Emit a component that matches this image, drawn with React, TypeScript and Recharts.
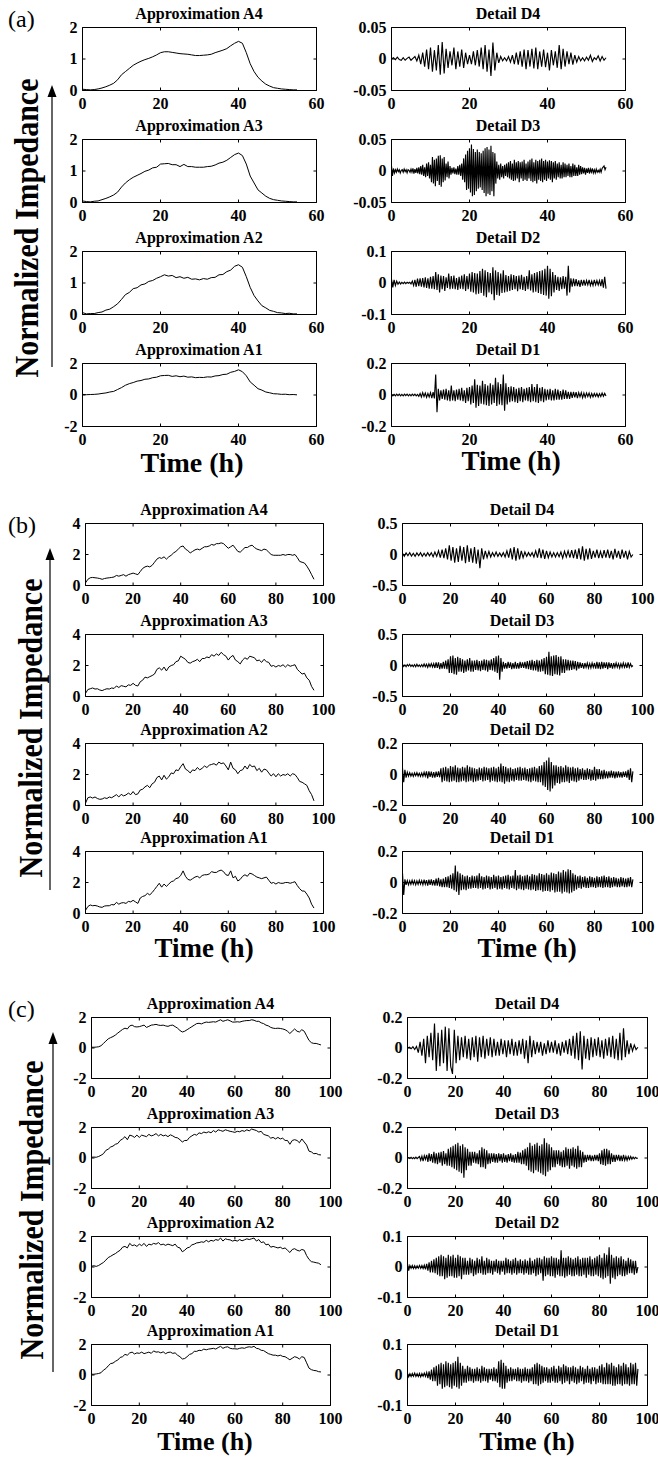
import React from 'react';
import { LineChart, Line, XAxis, YAxis, ReferenceArea } from 'recharts';

// ---------- Panel (a): values ----------
const A4_A = [.04,.03,.02,.03,.05,.08,.12,.17,.23,.34,
  .5,.6,.7,.8,.87,.93,.98,1.02,1.07,1.13,
  1.2,1.23,1.23,1.21,1.19,1.17,1.16,1.15,1.13,1.11,
  1.11,1.12,1.13,1.15,1.2,1.24,1.28,1.33,1.42,1.5,
  1.56,1.5,1.2,.85,.6,.42,.3,.2,.14,.09,
  .07,.05,.04,.03,.02,.02];
const A3_A = [.05,.03,.02,.04,.05,.09,.13,.18,.24,.33,
  .49,.62,.72,.8,.86,.92,.99,1.03,1.1,1.12,
  1.22,1.23,1.24,1.2,1.2,1.14,1.21,1.14,1.14,1.12,
  1.12,1.12,1.14,1.15,1.19,1.25,1.28,1.34,1.43,1.52,
  1.57,1.49,1.22,.84,.62,.4,.3,.2,.13,.09,
  .07,.05,.04,.03,.02,.02];
const A2_A = [.06,.02,.03,.03,.06,.08,.14,.17,.25,.34,
  .48,.63,.7,.82,.85,.94,.97,1.05,1.08,1.15,
  1.2,1.26,1.22,1.24,1.17,1.2,1.15,1.18,1.12,1.13,
  1.1,1.14,1.12,1.17,1.18,1.26,1.27,1.36,1.41,1.53,
  1.58,1.5,1.2,.86,.6,.43,.28,.21,.13,.1,
  .06,.05,.03,.04,.02,.02];
const A1_A = [.04,.02,.03,.04,.06,.1,.13,.19,.23,.35,
  .47,.62,.72,.79,.88,.92,1,1.02,1.1,1.13,
  1.22,1.24,1.25,1.18,1.22,1.16,1.2,1.13,1.15,1.1,
  1.12,1.11,1.15,1.14,1.21,1.23,1.3,1.32,1.44,1.5,
  1.6,1.48,1.22,.83,.62,.4,.31,.19,.14,.08,
  .07,.04,.05,.02,.03,.01];
const D4_A = [0,.002,-.001,.003,-.001,-.002,.002,-.002,.001,.003,
  -.002,.001,.004,-.003,.006,-.008,.01,-.012,.015,-.016,
  .018,-.02,.014,-.018,.022,-.025,.027,-.023,.016,-.014,
  .012,-.01,.018,-.016,.012,-.012,.015,-.014,.01,-.008,
  .006,-.008,.012,-.01,.014,-.012,.018,-.016,.022,-.02,
  .015,-.027,.026,-.018,.01,-.006,.004,-.003,.002,-.003,
  .004,-.005,.006,-.008,.01,-.009,.012,-.012,.015,-.016,
  .014,-.012,.016,-.015,.018,-.016,.012,-.012,.015,-.013,
  .01,-.018,.014,-.01,.012,-.014,.022,-.016,.016,-.012,
  .012,-.008,.01,-.009,.006,-.005,.004,-.003,.002,-.003,
  .003,-.002,.006,-.004,.002,-.001,.005,-.003,.004,-.002,.002];
const D3_A = [.008,-.008,.004,-.003,.002,-.002,.003,-.001,.002,-.003,.001,.002,-.002,.003,-.001,.002,-.003,.002,.001,-.002,
  .003,-.002,.004,-.004,.003,-.003,.005,-.004,.006,-.005,.008,-.006,.01,-.008,.006,-.01,.012,-.008,.014,-.012,
  .01,-.018,.022,-.02,.018,-.024,.02,-.016,.024,-.022,.025,-.025,.02,-.018,.022,-.015,.012,-.01,.015,-.012,
  .008,-.006,.005,-.004,.006,-.005,.004,-.006,.008,-.006,.01,-.008,.012,-.014,.02,-.018,.026,-.03,.032,-.028,
  .036,-.034,.042,-.04,.035,-.038,.03,-.032,.034,-.028,.03,-.026,.028,-.03,.032,-.035,.036,-.04,.038,-.036,
  .034,-.038,.04,-.032,.03,-.04,.028,-.02,.015,-.012,.01,-.014,.012,-.01,.008,-.012,.01,-.008,.012,-.01,
  .014,-.012,.016,-.014,.012,-.016,.018,-.015,.014,-.012,.016,-.018,.014,-.012,.015,-.016,.018,-.014,.012,-.016,
  .015,-.012,.018,-.016,.02,-.018,.014,-.016,.018,-.02,.016,-.014,.018,-.016,.02,-.018,.016,-.014,.018,-.016,
  .015,-.012,.017,-.014,.016,-.018,.014,-.012,.016,-.014,.012,-.01,.014,-.012,.01,-.012,.014,-.01,.012,-.01,
  .01,-.008,.012,-.01,.008,-.01,.012,-.008,.01,-.008,.006,-.008,.01,-.006,.008,-.005,.006,-.004,.005,-.006,
  .004,-.003,.005,-.004,.003,-.002,.004,-.003,.002,-.003,.003,-.002,.001,-.002,.003,-.002,.004,.006,.008,.002,.006];
const D2_A = [.012,-.014,.01,-.008,.006,-.004,.003,-.003,.002,-.002,.003,-.002,.002,-.001,.002,
  -.003,.006,-.008,.01,-.012,.014,-.01,.015,-.012,.016,-.014,.018,-.016,.015,-.018,
  .02,-.018,.022,-.02,.035,-.022,.028,-.03,.024,-.02,.022,-.025,.018,-.016,.03,
  -.02,.022,-.018,.024,-.02,.016,-.022,.02,-.018,.024,-.02,.028,-.025,.022,-.02,
  .03,-.028,.035,-.03,.032,-.036,.03,-.034,.038,-.032,.045,-.04,.04,-.045,.035,
  -.03,.032,-.036,.05,-.055,.04,-.038,.035,-.04,.03,-.032,.04,-.03,.025,-.028,
  .022,-.025,.028,-.022,.025,-.02,.022,-.026,.024,-.02,.026,-.022,.02,-.025,.022,
  -.02,.04,-.024,.028,-.03,.032,-.028,.035,-.032,.038,-.035,.04,-.038,.045,-.04,
  .055,-.05,.045,-.042,.035,-.03,.025,-.022,.02,-.025,.018,-.02,.022,-.018,.02,
  -.04,.055,-.03,.015,-.012,.014,-.01,.012,-.01,.008,-.012,.01,-.008,.01,-.008,
  .008,-.006,.01,-.008,.006,-.008,.01,-.006,.008,-.006,.008,-.01,.012,-.015,.02,
  -.018];
const D1_A = [.005,-.006,.004,-.005,.006,-.004,.005,-.006,.004,-.005,.006,-.004,.005,-.005,.004,
  -.006,.005,-.004,.006,-.005,.004,-.008,.01,-.012,.015,-.01,.012,-.015,.01,-.012,
  .015,-.02,.018,-.022,.13,-.11,.04,-.035,.03,-.025,.035,-.03,.04,-.035,.03,
  -.04,.06,-.035,.03,-.04,.035,-.03,.04,-.035,.045,-.04,.03,-.05,.045,-.04,
  .05,-.06,.06,-.05,.1,-.08,.065,-.07,.06,-.055,.09,-.06,.07,-.065,.06,
  -.07,.075,-.06,.065,-.05,.11,-.07,.08,-.06,.07,-.065,.13,-.1,.075,-.06,
  .05,-.045,.055,-.04,.05,-.045,.04,-.05,.045,-.04,.05,-.045,.04,-.035,.045,
  -.04,.05,-.045,.07,-.04,.05,-.045,.07,-.05,.045,-.04,.05,-.045,.04,-.035,
  .035,-.03,.04,-.035,.03,-.035,.04,-.03,.035,-.03,.025,-.03,.035,-.025,.03,
  -.025,.02,-.025,.02,-.018,.02,-.015,.018,-.02,.015,-.012,.015,-.018,.012,-.015,
  .012,-.01,.012,-.015,.01,-.012,.01,-.008,.01,-.012,.008,-.01,.012,-.008,.01,
  -.006];

// ---------- Panel (b) ----------
const A4_B = [.17,.4,.5,.52,.5,.48,.45,.4,.45,.48,
  .5,.52,.55,.65,.6,.65,.7,.6,.7,.75,
  .8,.75,.7,.9,1.1,1.2,1.25,1.2,1.3,1.5,
  1.7,1.8,1.75,1.85,1.7,1.85,1.95,2.1,2.2,2.35,
  2.5,2.55,2.35,2.25,2.1,2.2,2.3,2.35,2.3,2.4,
  2.5,2.5,2.55,2.65,2.6,2.7,2.7,2.75,2.7,2.55,
  2.4,2.5,2.6,2.4,2.2,2.15,2.3,2.45,2.45,2.55,
  2.6,2.45,2.35,2.3,2.25,2.35,2.3,2.15,2,1.95,
  1.95,1.95,1.95,2,1.95,2,2,1.95,2,1.8,
  1.55,1.5,1.45,1.25,1,.7,.4];
const A3_B = [.2,.45,.5,.55,.48,.5,.42,.38,.45,.5,
  .48,.55,.52,.68,.58,.7,.66,.62,.75,.72,
  .85,.72,.68,.95,1.05,1.25,1.2,1.28,1.35,1.45,
  1.75,1.85,1.7,1.9,1.65,1.9,2,2.05,2.25,2.3,
  2.6,2.5,2.4,2.2,2.15,2.25,2.3,2.4,2.25,2.45,
  2.45,2.55,2.5,2.7,2.6,2.75,2.65,2.85,2.7,2.6,
  2.35,2.55,2.65,2.35,2.25,2.1,2.35,2.5,2.4,2.6,
  2.55,2.5,2.3,2.35,2.2,2.4,2.25,2.2,1.95,2,
  1.9,2,1.95,2.05,1.9,2.05,1.95,2,2.05,1.75,
  1.6,1.45,1.5,1.2,1.05,.65,.4];
const A2_B = [.15,.5,.55,.48,.55,.45,.4,.42,.5,.45,
  .55,.5,.6,.7,.55,.72,.62,.68,.8,.7,
  .9,.7,.75,1,1.05,1.2,1.3,1.15,1.4,1.5,
  1.8,1.9,1.65,1.95,1.7,1.85,2.1,2.05,2.3,2.25,
  2.5,2.7,2.35,2.25,2.1,2.3,2.25,2.45,2.3,2.4,
  2.55,2.45,2.6,2.65,2.7,2.6,2.8,2.7,2.75,2.55,
  2.3,2.8,2.4,2.3,2.05,2.25,2.3,2.55,2.35,2.65,
  2.5,2.55,2.25,2.4,2.15,2.35,2.3,2.1,1.9,2.05,
  1.85,2.05,1.9,2,1.95,2.05,1.9,2.05,2,1.8,
  1.55,1.5,1.4,1.3,.95,.7,.3];
const A1_B = [.2,.45,.55,.5,.52,.48,.42,.4,.48,.5,
  .5,.58,.55,.72,.6,.68,.7,.65,.78,.75,
  .85,.75,.65,1,1.1,1.15,1.3,1.2,1.35,1.55,
  1.75,1.95,1.7,1.9,1.75,1.9,2.05,2.1,2.25,2.3,
  2.45,2.75,2.4,2.2,2.15,2.25,2.35,2.4,2.3,2.45,
  2.5,2.5,2.55,2.7,2.65,2.65,2.75,2.8,2.7,2.5,
  2.45,2.75,2.3,2.4,2.1,2.2,2.4,2.5,2.4,2.6,
  2.55,2.45,2.35,2.3,2.25,2.3,2.35,2.15,1.95,2,
  1.9,2,1.95,1.95,2,2,1.95,2,2.05,1.8,
  1.6,1.45,1.45,1.25,1,.6,.35];
const D4_B = [.02,-.03,.025,-.02,.03,-.025,.02,-.03,
  .025,-.02,.03,-.03,.02,-.025,.03,-.02,
  .03,-.035,.04,-.03,.06,-.05,.08,-.06,
  .1,-.08,.15,-.1,.12,-.13,.1,-.12,
  .14,-.1,.12,-.14,.15,-.12,.1,-.13,
  .12,-.15,.08,-.22,.1,-.08,.06,-.05,
  .05,-.04,.03,-.03,.04,-.03,.025,-.03,
  .03,-.04,.06,-.05,.1,-.08,.12,-.1,
  .1,-.08,.06,-.05,.04,-.03,.03,-.025,
  .03,-.04,.06,-.05,.1,-.06,.08,-.07,
  .06,-.05,.04,-.04,.03,-.04,.03,-.035,
  .04,-.06,.05,-.04,.06,-.05,.07,-.06,
  .08,-.07,.1,-.08,.13,-.1,.09,-.08,
  .1,-.07,.06,-.05,.08,-.06,.05,-.06,
  .07,-.05,.08,-.06,.06,-.08,.09,-.05,
  .06,-.07,.08,-.05,.06,-.08,.05,-.04,
  0];
const D3_B = [.02,-.015,.01,-.02,.015,-.01,.02,-.015,.01,-.02,.015,-.02,.02,-.015,.01,-.02,.015,-.02,.025,-.02,
  .02,-.03,.025,-.02,.03,-.025,.03,-.04,.05,-.04,.05,-.06,.04,-.05,.06,-.05,.08,-.06,.1,-.12,
  .15,-.12,.16,-.14,.12,-.15,.14,-.1,.12,-.1,.1,-.12,.08,-.1,.1,-.08,.12,-.1,.08,-.1,
  .08,-.07,.09,-.08,.07,-.09,.08,-.07,.1,-.08,.09,-.1,.08,-.07,.1,-.08,.12,-.1,.15,-.12,
  .16,-.23,.12,-.1,.06,-.05,.04,-.05,.06,-.04,.05,-.06,.04,-.05,.06,-.05,.04,-.05,.06,-.04,
  .05,-.04,.06,-.05,.07,-.06,.08,-.07,.09,-.08,.07,-.08,.09,-.1,.08,-.1,.1,-.09,.12,-.14,
  .14,-.15,.22,-.16,.15,-.17,.16,-.14,.17,-.15,.14,-.16,.15,-.12,.1,-.12,.1,-.08,.09,-.08,
  .08,-.07,.08,-.06,.07,-.08,.06,-.05,.05,-.04,.04,-.05,.04,-.03,.04,-.04,.03,-.04,.04,-.03,
  .04,-.05,.06,-.05,.05,-.06,.06,-.05,.05,-.04,.05,-.06,.05,-.04,.04,-.05,.04,-.03,.04,-.03,
  .03,-.04,.03,-.03,.04,-.03,.03,-.04,.05,-.03,.03,-.02,0];
const D2_B = [.04,-.05,.03,-.02,.015,-.01,.012,-.01,.008,-.012,.01,-.008,.012,-.01,.008,-.012,.01,-.012,.015,-.01,
  .02,-.025,.02,-.015,.018,-.02,.015,-.02,.018,-.015,.02,-.018,.04,-.05,.045,-.04,.05,-.045,.04,-.05,
  .055,-.045,.05,-.04,.06,-.05,.045,-.05,.04,-.045,.05,-.04,.045,-.05,.06,-.045,.05,-.04,.045,-.05,
  .04,-.045,.035,-.04,.045,-.035,.04,-.045,.05,-.04,.045,-.035,.04,-.05,.045,-.04,.05,-.045,.04,-.05,
  .05,-.045,.07,-.05,.055,-.06,.05,-.045,.04,-.05,.045,-.04,.035,-.045,.04,-.035,.045,-.04,.05,-.04,
  .04,-.035,.045,-.04,.035,-.045,.04,-.05,.045,-.04,.05,-.045,.04,-.05,.055,-.05,.06,-.07,.08,-.08,
  .09,-.1,.11,-.11,.08,-.09,.06,-.07,.06,-.055,.05,-.06,.055,-.05,.045,-.05,.06,-.045,.05,-.055,
  .045,-.04,.05,-.045,.04,-.05,.045,-.04,.035,-.03,.04,-.035,.03,-.035,.04,-.03,.035,-.04,.03,-.035,
  .05,-.04,.035,-.03,.035,-.03,.025,-.03,.03,-.025,.02,-.025,.02,-.02,.025,-.02,.02,-.025,.018,-.02,
  .02,-.018,.015,-.02,.018,-.015,.02,-.02,.03,-.035,.04,-.05,.02];
const D1_B = [.06,-.08,.02,-.015,.012,-.015,.01,-.012,.015,-.01,.012,-.015,.01,-.012,.015,-.01,.012,-.015,.018,-.012,
  .015,-.02,.018,-.015,.02,-.018,.015,-.02,.025,-.02,.03,-.025,.02,-.03,.025,-.03,.035,-.03,.04,-.035,
  .05,-.04,.06,-.05,.11,-.06,.07,-.08,.06,-.05,.05,-.045,.04,-.05,.045,-.04,.035,-.04,.045,-.035,
  .04,-.035,.045,-.04,.06,-.035,.04,-.045,.035,-.04,.045,-.035,.04,-.045,.035,-.04,.05,-.035,.04,-.045,
  .045,-.04,.035,-.045,.04,-.035,.045,-.04,.05,-.045,.04,-.035,.045,-.04,.08,-.05,.045,-.04,.05,-.045,
  .04,-.05,.045,-.04,.05,-.045,.04,-.05,.055,-.045,.05,-.055,.045,-.05,.06,-.05,.055,-.06,.05,-.055,
  .06,-.055,.05,-.06,.065,-.05,.06,-.065,.055,-.06,.07,-.06,.065,-.07,.08,-.06,.07,-.065,.085,-.07,
  .08,-.065,.06,-.055,.05,-.045,.04,-.035,.045,-.04,.035,-.03,.04,-.035,.03,-.035,.04,-.03,.035,-.03,
  .03,-.035,.04,-.03,.035,-.03,.04,-.035,.045,-.03,.035,-.03,.04,-.035,.03,-.03,.035,-.025,.03,-.03,
  .025,-.03,.035,-.025,.03,-.03,.025,-.03,.03,-.025,.035,-.03,.02];

// ---------- Panel (c) ----------
const A4_C = [.05,.05,.06,.08,.15,.3,.45,.6,.68,.75,
  .85,.98,1.1,1.22,1.3,1.25,1.45,1.5,1.4,1.38,
  1.4,1.45,1.5,1.35,1.42,1.5,1.52,1.55,1.5,1.48,
  1.5,1.45,1.42,1.48,1.5,1.4,1.3,1.15,1.05,1.1,
  1.2,1.3,1.4,1.5,1.6,1.62,1.58,1.65,1.7,1.68,
  1.7,1.72,1.7,1.78,1.85,1.75,1.8,1.85,1.78,1.7,
  1.7,1.72,1.7,1.75,1.78,1.8,1.8,1.85,1.82,1.75,
  1.75,1.65,1.6,1.5,1.45,1.35,1.3,1.28,1.3,1.28,
  1.25,1.2,1.1,.95,1.1,1.25,1.1,1.05,1.2,1.1,
  .8,.5,.35,.3,.3,.25,.2];
const A3_C = [.05,.06,.05,.1,.18,.28,.5,.58,.72,.78,
  .9,.95,1.15,1.25,1.4,1.2,1.5,1.45,1.35,1.5,
  1.35,1.5,1.45,1.4,1.55,1.45,1.5,1.6,1.45,1.55,
  1.45,1.5,1.4,1.52,1.45,1.35,1.32,1.2,1.05,1.15,
  1.15,1.35,1.45,1.55,1.5,1.65,1.6,1.7,1.65,1.72,
  1.65,1.8,1.7,1.85,1.8,1.75,1.85,1.8,1.75,1.72,
  1.68,1.75,1.72,1.8,1.75,1.85,1.78,1.9,1.85,1.8,
  1.7,1.75,1.55,1.5,1.45,1.3,1.35,1.25,1.35,1.25,
  1.3,1.15,1.15,.9,1.15,1.2,1.15,1,1.25,1.05,
  .85,.45,.4,.28,.3,.22,.2];
const A2_C = [.05,.08,.04,.1,.2,.3,.45,.62,.7,.8,
  .88,1,1.1,1.3,1.35,1.25,1.55,1.4,1.45,1.35,
  1.5,1.4,1.55,1.35,1.5,1.45,1.55,1.5,1.6,1.45,
  1.5,1.42,1.5,1.45,1.4,1.5,1.3,1.25,1,1.1,
  1.25,1.3,1.45,1.5,1.58,1.6,1.65,1.62,1.75,1.65,
  1.75,1.7,1.8,1.75,1.9,1.7,1.85,1.8,1.78,1.7,
  1.75,1.7,1.8,1.72,1.78,1.85,1.8,1.85,1.9,1.7,
  1.8,1.6,1.65,1.45,1.5,1.3,1.35,1.3,1.25,1.3,
  1.2,1.25,1.1,.95,1.15,1.2,1.1,1.05,1.15,1.1,
  .75,.5,.35,.32,.28,.25,.15];
const A1_C = [.05,.05,.07,.1,.15,.32,.42,.6,.75,.78,
  .9,.98,1.15,1.2,1.35,1.3,1.45,1.5,1.38,1.45,
  1.42,1.5,1.4,1.45,1.5,1.42,1.58,1.5,1.52,1.45,
  1.52,1.4,1.48,1.5,1.42,1.45,1.3,1.2,1.05,1.08,
  1.2,1.35,1.4,1.55,1.55,1.62,1.6,1.7,1.65,1.7,
  1.72,1.75,1.7,1.8,1.88,1.75,1.82,1.85,1.75,1.72,
  1.72,1.7,1.75,1.78,1.75,1.82,1.85,1.82,1.88,1.75,
  1.72,1.62,1.6,1.5,1.4,1.35,1.3,1.3,1.25,1.3,
  1.22,1.2,1.1,1,1.1,1.2,1.15,1.05,1.2,1.15,
  .8,.45,.35,.3,.28,.22,.2];
const D4_C = [0,.005,-.005,.008,-.01,.01,-.03,.04,
  -.05,.06,-.1,.08,-.06,.1,-.08,.16,
  -.15,.1,-.12,.12,-.1,.14,-.15,.13,
  -.12,-.17,.12,-.1,.08,-.08,.07,-.06,
  .08,-.07,.06,-.08,.07,-.06,.08,-.09,
  .07,-.06,.08,-.07,.06,-.05,.07,-.06,
  .06,-.05,.04,-.05,.06,-.04,.05,-.06,
  .05,-.04,.06,-.05,.04,-.05,.05,-.04,
  .06,-.07,.05,-.1,.08,-.06,.05,-.04,
  .04,-.03,.04,-.05,.03,-.04,.05,-.03,
  .04,-.03,.05,-.04,.03,-.05,.04,-.03,
  .05,-.04,.06,-.05,.08,-.07,.1,-.08,
  .11,-.14,.08,-.07,.06,-.08,.07,-.06,
  .06,-.05,.07,-.06,.05,-.07,.06,-.05,
  .07,-.06,.08,-.07,.06,-.08,.1,-.08,
  .13,-.06,.05,-.04,.03,-.02,.02,-.01,
  .005];
const D3_C = [0,.003,-.003,.004,-.005,.003,-.004,.005,-.004,.003,.01,-.015,.012,-.02,.015,-.01,.02,-.025,.03,-.02,
  .025,-.03,.04,-.035,.03,-.04,.035,-.03,.04,-.05,.045,-.04,.03,-.05,.06,-.05,.07,-.06,.08,-.07,
  .09,-.08,.1,-.09,.08,-.1,.09,-.13,.07,-.08,.06,-.05,.04,-.05,.04,-.03,.04,-.035,.03,-.04,
  .05,-.06,.07,-.06,.06,-.07,.05,-.04,.03,-.035,.03,-.025,.03,-.03,.025,-.03,.03,-.02,.025,-.03,
  .03,-.025,.02,-.03,.025,-.02,.03,-.025,.02,-.03,.025,-.03,.04,-.03,.035,-.04,.05,-.04,.06,-.05,
  .07,-.08,.1,-.09,.08,-.1,.09,-.08,.1,-.09,.08,-.1,.09,-.11,.13,-.12,.1,-.09,.09,-.08,
  .07,-.06,.05,-.06,.05,-.04,.05,-.05,.04,-.06,.05,-.06,.07,-.05,.06,-.07,.06,-.05,.07,-.06,
  .06,-.07,.08,-.06,.05,-.06,.04,-.03,.02,-.025,.02,-.015,.02,-.02,.015,-.02,.02,-.015,.02,-.02,
  .03,-.04,.05,-.045,.06,-.05,.06,-.04,.05,-.04,.03,-.025,.02,-.025,.02,-.015,.02,-.02,.015,-.02,
  .02,-.015,.01,-.015,.01,-.01,.01,-.008,.006,-.005,.004,-.003,0];
const D2_C = [.01,-.012,.005,-.004,.005,-.005,.004,-.005,.004,-.004,.005,-.004,.005,-.005,.006,-.008,.01,-.012,.015,-.018,
  .02,-.018,.025,-.02,.03,-.025,.035,-.03,.04,-.03,.035,-.04,.03,-.035,.04,-.03,.035,-.03,.04,-.035,
  .03,-.035,.04,-.03,.035,-.04,.03,-.025,.03,-.025,.02,-.025,.03,-.02,.025,-.03,.02,-.025,.03,-.02,
  .025,-.02,.035,-.025,.02,-.025,.03,-.02,.025,-.02,.02,-.025,.02,-.015,.025,-.02,.02,-.025,.02,-.015,
  .02,-.025,.03,-.02,.025,-.02,.02,-.025,.025,-.02,.03,-.025,.02,-.02,.025,-.02,.02,-.025,.025,-.02,
  .02,-.025,.03,-.025,.02,-.02,.025,-.03,.03,-.025,.03,-.02,.025,-.045,.035,-.03,.03,-.025,.03,-.03,
  .035,-.03,.03,-.035,.03,-.025,.025,-.03,.055,-.03,.03,-.035,.03,-.03,.035,-.025,.03,-.03,.025,-.03,
  .03,-.025,.035,-.03,.025,-.03,.03,-.025,.03,-.035,.03,-.025,.035,-.03,.025,-.03,.03,-.025,.035,-.03,
  .04,-.035,.03,-.04,.045,-.035,.04,-.03,.065,-.055,.04,-.035,.03,-.04,.035,-.03,.03,-.025,.035,-.03,
  .025,-.03,.02,-.025,.03,-.02,.025,-.02,.02,-.025,.02,-.02,0];
const D1_C = [.005,-.006,.004,-.005,.005,-.004,.006,-.005,.004,-.005,.005,-.006,.005,-.004,.006,-.005,.008,-.01,.012,-.015,
  .018,-.02,.025,-.02,.03,-.035,.035,-.03,.04,-.045,.035,-.04,.045,-.035,.04,-.04,.035,-.045,.04,-.035,
  .045,-.04,.06,-.045,.04,-.035,.03,-.025,.02,-.025,.03,-.02,.025,-.02,.02,-.025,.02,-.02,.025,-.02,
  .02,-.025,.03,-.02,.025,-.02,.02,-.025,.02,-.015,.02,-.02,.025,-.02,.02,-.025,.045,-.04,.05,-.045,
  .04,-.045,.03,-.025,.02,-.02,.025,-.02,.02,-.015,.02,-.02,.025,-.02,.02,-.025,.02,-.02,.025,-.02,
  .02,-.025,.02,-.02,.025,-.03,.035,-.03,.04,-.035,.035,-.03,.03,-.025,.025,-.02,.025,-.025,.02,-.025,
  .025,-.02,.03,-.025,.02,-.025,.03,-.02,.025,-.03,.035,-.025,.03,-.02,.025,-.03,.025,-.02,.03,-.025,
  .025,-.03,.02,-.025,.03,-.02,.025,-.03,.02,-.025,.03,-.025,.02,-.03,.025,-.02,.025,-.03,.02,-.025,
  .03,-.025,.035,-.03,.025,-.03,.04,-.03,.035,-.03,.04,-.035,.03,-.035,.025,-.03,.035,-.03,.03,-.035,
  .04,-.03,.035,-.03,.025,-.035,.04,-.03,.035,-.03,.04,-.035,.02];

// ---------- axis ticks ----------
const X_TICKS_A = [0, 20, 40, 60];
const X_TICKS_BC = [0, 20, 40, 60, 80, 100];
const APPROX_TITLES = ['Approximation A4', 'Approximation A3', 'Approximation A2', 'Approximation A1'];
const DETAIL_TITLES = ['Detail D4', 'Detail D3', 'Detail D2', 'Detail D1'];

type Series = { values: number[]; step: number; yDomain: [number, number]; yTicks: number[] };

const PANEL_SERIES: { left: Series[]; right: Series[] }[] = [
  {
    left: [
      { values: A4_A, step: 1, yDomain: [0, 2], yTicks: [0, 1, 2] },
      { values: A3_A, step: 1, yDomain: [0, 2], yTicks: [0, 1, 2] },
      { values: A2_A, step: 1, yDomain: [0, 2], yTicks: [0, 1, 2] },
      { values: A1_A, step: 1, yDomain: [-2, 2], yTicks: [-2, 0, 2] },
    ],
    right: [
      { values: D4_A, step: 0.5, yDomain: [-0.05, 0.05], yTicks: [-0.05, 0, 0.05] },
      { values: D3_A, step: 0.25, yDomain: [-0.05, 0.05], yTicks: [-0.05, 0, 0.05] },
      { values: D2_A, step: 1 / 3, yDomain: [-0.1, 0.1], yTicks: [-0.1, 0, 0.1] },
      { values: D1_A, step: 1 / 3, yDomain: [-0.2, 0.2], yTicks: [-0.2, 0, 0.2] },
    ],
  },
  {
    left: [
      { values: A4_B, step: 1, yDomain: [0, 4], yTicks: [0, 2, 4] },
      { values: A3_B, step: 1, yDomain: [0, 4], yTicks: [0, 2, 4] },
      { values: A2_B, step: 1, yDomain: [0, 4], yTicks: [0, 2, 4] },
      { values: A1_B, step: 1, yDomain: [0, 4], yTicks: [0, 2, 4] },
    ],
    right: [
      { values: D4_B, step: 0.75, yDomain: [-0.5, 0.5], yTicks: [-0.5, 0, 0.5] },
      { values: D3_B, step: 0.5, yDomain: [-0.5, 0.5], yTicks: [-0.5, 0, 0.5] },
      { values: D2_B, step: 0.5, yDomain: [-0.2, 0.2], yTicks: [-0.2, 0, 0.2] },
      { values: D1_B, step: 0.5, yDomain: [-0.2, 0.2], yTicks: [-0.2, 0, 0.2] },
    ],
  },
  {
    left: [
      { values: A4_C, step: 1, yDomain: [-2, 2], yTicks: [-2, 0, 2] },
      { values: A3_C, step: 1, yDomain: [-2, 2], yTicks: [-2, 0, 2] },
      { values: A2_C, step: 1, yDomain: [-2, 2], yTicks: [-2, 0, 2] },
      { values: A1_C, step: 1, yDomain: [-2, 2], yTicks: [-2, 0, 2] },
    ],
    right: [
      { values: D4_C, step: 0.75, yDomain: [-0.2, 0.2], yTicks: [-0.2, 0, 0.2] },
      { values: D3_C, step: 0.5, yDomain: [-0.2, 0.2], yTicks: [-0.2, 0, 0.2] },
      { values: D2_C, step: 0.5, yDomain: [-0.1, 0.1], yTicks: [-0.1, 0, 0.1] },
      { values: D1_C, step: 0.5, yDomain: [-0.1, 0.1], yTicks: [-0.1, 0, 0.1] },
    ],
  },
];

// ---------- layout ----------
const LAYOUT = [
  { label: '(a)', labelY: 27, xMax: 60, xTicks: X_TICKS_A, tops: [27, 139, 251, 363], h: 63,
    cols: [{ left: 82, w: 234 }, { left: 391, w: 234 }],
    yl: { x: 38, cy: 228 }, arrow: { x: 52, y0: 367, y1: 85 },
    time: [{ x: 192, y: 472, fs: 28 }, { x: 511, y: 470, fs: 27 }] },
  { label: '(b)', labelY: 533, xMax: 100, xTicks: X_TICKS_BC, tops: [523, 634, 743, 851], h: 62,
    cols: [{ left: 85, w: 238 }, { left: 402, w: 240 }],
    yl: { x: 42, cy: 728 }, arrow: { x: 50, y0: 890, y1: 548 },
    time: [{ x: 204, y: 957, fs: 27 }, { x: 527, y: 957, fs: 27 }] },
  { label: '(c)', labelY: 1017, xMax: 100, xTicks: X_TICKS_BC, tops: [1017, 1127, 1236, 1344], h: 61,
    cols: [{ left: 91, w: 239 }, { left: 407, w: 240 }],
    yl: { x: 43, cy: 1210 }, arrow: { x: 53, y0: 1372, y1: 1032 },
    time: [{ x: 205, y: 1450, fs: 26 }, { x: 527, y: 1450, fs: 26 }] },
];

const FONT = "'Liberation Serif','Times New Roman',Times,serif";
const YW = 50;
const XH = 26;
const MT = 10;
const MR = 20;

function SubPlot(props: { left: number; top: number; w: number; h: number; xMax: number; xTicks: number[]; s: Series; sw: number }) {
  const { left, top, w, h, xMax, xTicks, s, sw } = props;
  const data = s.values.map((v, i) => ({ t: i * s.step, v }));
  const xTick = (p: any) => {
    const { x, y, payload } = p;
    return (
      <g>
        <line x1={x} x2={x} y1={y} y2={y - 3} stroke="#000" strokeWidth={1} />
        <line x1={x} x2={x} y1={y - h} y2={y - h + 3} stroke="#000" strokeWidth={1} />
        <text x={x} y={y + 18} textAnchor="middle" fontFamily={FONT} fontWeight="bold" fontSize={16} fill="#000">
          {payload.value}
        </text>
      </g>
    );
  };
  const yTick = (p: any) => {
    const { x, y, payload } = p;
    return (
      <g>
        <line x1={x} x2={x + 3} y1={y} y2={y} stroke="#000" strokeWidth={1} />
        <line x1={x + w} x2={x + w - 3} y1={y} y2={y} stroke="#000" strokeWidth={1} />
        <text x={x - 5} y={y + 5} textAnchor="end" fontFamily={FONT} fontWeight="bold" fontSize={16} fill="#000">
          {payload.value}
        </text>
      </g>
    );
  };
  return (
    <div style={{ position: 'absolute', left: left - YW - 1, top: top - MT }}>
      <LineChart
        width={YW + w + 1.5 + MR + 0.5}
        height={h + XH + MT + 0.5 + 1.5}
        data={data}
        margin={{ top: MT + 0.5, right: MR + 0.5, bottom: 1.5, left: 1.5 }}
      >
        <XAxis
          dataKey="t"
          type="number"
          domain={[0, xMax]}
          ticks={xTicks}
          interval={0}
          height={XH}
          axisLine={false}
          tickLine={false}
          tickSize={0}
          tickMargin={0}
          tick={xTick}
          allowDataOverflow
        />
        <YAxis
          type="number"
          domain={s.yDomain}
          ticks={s.yTicks}
          interval={0}
          width={YW}
          axisLine={false}
          tickLine={false}
          tickSize={0}
          tickMargin={0}
          tick={yTick}
          allowDataOverflow
        />
        <ReferenceArea
          x1={0}
          x2={xMax}
          y1={s.yDomain[0]}
          y2={s.yDomain[1]}
          fill="none"
          fillOpacity={0}
          stroke="#000"
          strokeWidth={1}
          ifOverflow="visible"
        />
        <Line
          type="linear"
          dataKey="v"
          stroke="#000"
          strokeWidth={sw}
          dot={false}
          activeDot={false}
          isAnimationActive={false}
        />
      </LineChart>
    </div>
  );
}

export default function App() {
  const plots: React.ReactNode[] = [];
  const texts: React.ReactNode[] = [];
  LAYOUT.forEach((L, pi) => {
    const ser = PANEL_SERIES[pi];
    L.tops.forEach((top, ri) => {
      [0, 1].forEach((ci) => {
        const col = L.cols[ci];
        const s = ci === 0 ? ser.left[ri] : ser.right[ri];
        const title = ci === 0 ? APPROX_TITLES[ri] : DETAIL_TITLES[ri];
        plots.push(
          <SubPlot key={`p${pi}-${ri}-${ci}`} left={col.left} top={top} w={col.w} h={L.h} xMax={L.xMax}
            xTicks={L.xTicks} s={s} sw={ci === 0 ? 1 : 1.15} />
        );
        texts.push(
          <text key={`t${pi}-${ri}-${ci}`} x={col.left + col.w / 2} y={top - 8} textAnchor="middle"
            fontFamily={FONT} fontWeight="bold" fontSize={16} fill="#000">{title}</text>
        );
      });
    });
    texts.push(
      <text key={`lab${pi}`} x={8} y={L.labelY} fontFamily={FONT} fontSize={24} fill="#000">{L.label}</text>
    );
    texts.push(
      <text key={`yl${pi}`} transform={`translate(${L.yl.x},${L.yl.cy}) scale(1.1,1) rotate(-90)`} textAnchor="middle"
        fontFamily={FONT} fontWeight="bold" fontSize={30} fill="#000">Normalized Impedance</text>
    );
    texts.push(
      <g key={`ar${pi}`}>
        <line x1={L.arrow.x} x2={L.arrow.x} y1={L.arrow.y0} y2={L.arrow.y1 + 10} stroke="#000" strokeWidth={1.2} />
        <polygon points={`${L.arrow.x},${L.arrow.y1} ${L.arrow.x - 4.5},${L.arrow.y1 + 12} ${L.arrow.x + 4.5},${L.arrow.y1 + 12}`} fill="#000" />
      </g>
    );
    L.time.forEach((tm, ti) => {
      texts.push(
        <text key={`tm${pi}-${ti}`} x={tm.x} y={tm.y} textAnchor="middle" fontFamily={FONT} fontWeight="bold"
          fontSize={tm.fs} fill="#000">Time (h)</text>
      );
    });
  });
  return (
    <div style={{ position: 'absolute', left: 0, top: 0, width: 658, height: 1457, background: '#fff', overflow: 'hidden' }}>
      {plots}
      <svg width={658} height={1457} style={{ position: 'absolute', left: 0, top: 0, pointerEvents: 'none' }}>
        {texts}
      </svg>
    </div>
  );
}
